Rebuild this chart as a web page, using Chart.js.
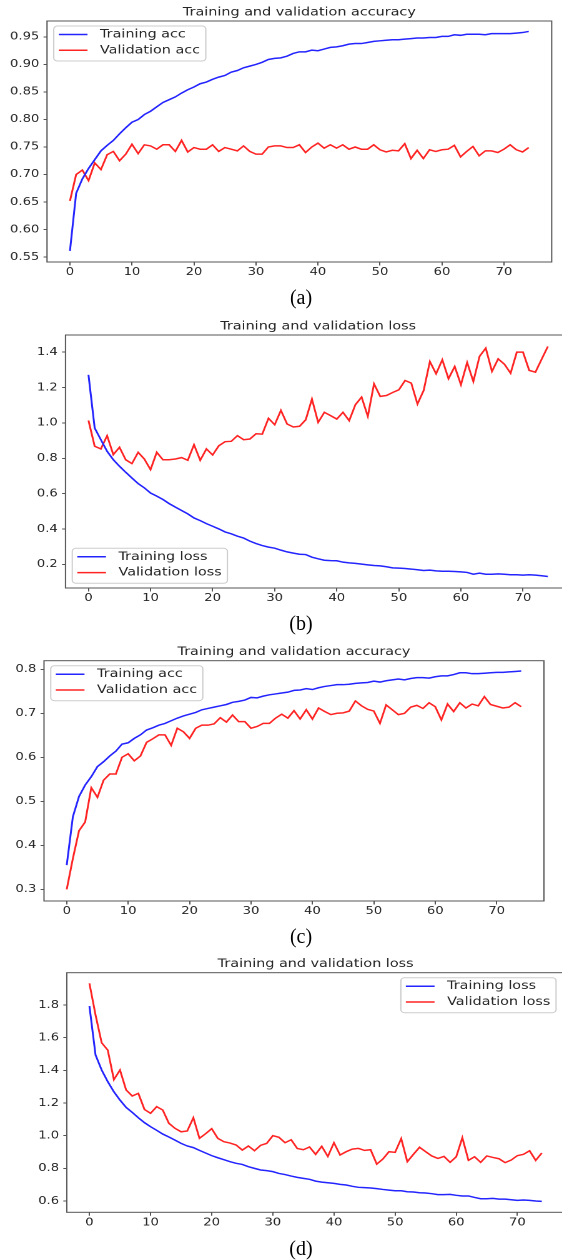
<!DOCTYPE html>
<html><head><meta charset="utf-8">
<script src="https://cdn.jsdelivr.net/npm/chart.js@4/dist/chart.umd.min.js"></script>
<style>
html,body{margin:0;padding:0;background:#fff;overflow:hidden;width:562px;height:1260px;font-family:"DejaVu Sans",sans-serif;}
.wrap{position:absolute;left:0;transform-origin:0 0;transform:scaleX(1.249);}
.wrap canvas{display:block;}
.cap{position:absolute;left:251px;width:100px;text-align:center;font-family:"Liberation Serif","Times New Roman",serif;font-size:20px;line-height:20px;color:#000;}
</style></head><body>
<div class="wrap" style="top:0px"><canvas id="ca"></canvas></div>
<div class="wrap" style="top:305px"><canvas id="cb"></canvas></div>
<div class="wrap" style="top:625px"><canvas id="cc"></canvas></div>
<div class="wrap" style="top:945px"><canvas id="cd"></canvas></div>
<div class="cap" style="top:287px">(a)</div>
<div class="cap" style="top:613px">(b)</div>
<div class="cap" style="top:926px">(c)</div>
<div class="cap" style="top:1238px">(d)</div>
<script>
const epochs = [0,1,2,3,4,5,6,7,8,9,10,11,12,13,14,15,16,17,18,19,20,21,22,23,24,25,26,27,28,29,30,31,32,33,34,35,36,37,38,39,40,41,42,43,44,45,46,47,48,49,50,51,52,53,54,55,56,57,58,59,60,61,62,63,64,65,66,67,68,69,70,71,72,73,74];
const xTickLabels = ['0','10','20','30','40','50','60','70'];

const accA_train = [0.561,0.666,0.692,0.711,0.727,0.743,0.753,0.762,0.774,0.785,0.795,0.800,0.809,0.815,0.823,0.831,0.836,0.841,0.848,0.854,0.859,0.865,0.868,0.873,0.877,0.880,0.886,0.889,0.894,0.897,0.900,0.904,0.909,0.911,0.912,0.915,0.920,0.923,0.923,0.926,0.925,0.928,0.931,0.932,0.934,0.937,0.938,0.938,0.940,0.942,0.943,0.944,0.945,0.945,0.946,0.947,0.948,0.948,0.949,0.949,0.951,0.951,0.954,0.953,0.955,0.955,0.955,0.954,0.956,0.956,0.956,0.956,0.957,0.958,0.960];
const accA_val = [0.652,0.700,0.708,0.689,0.721,0.709,0.736,0.742,0.725,0.737,0.755,0.738,0.754,0.752,0.746,0.754,0.754,0.742,0.762,0.741,0.749,0.746,0.746,0.754,0.742,0.749,0.746,0.743,0.752,0.742,0.737,0.737,0.750,0.752,0.752,0.749,0.749,0.754,0.740,0.750,0.757,0.748,0.754,0.748,0.754,0.746,0.750,0.746,0.746,0.754,0.745,0.741,0.744,0.743,0.756,0.729,0.744,0.729,0.745,0.742,0.745,0.746,0.753,0.732,0.742,0.751,0.734,0.743,0.743,0.740,0.746,0.754,0.745,0.741,0.749];
const yTicksA = ['0.55','0.60','0.65','0.70','0.75','0.80','0.85','0.90','0.95'];

const lossB_train = [1.272,0.971,0.905,0.840,0.792,0.755,0.721,0.689,0.657,0.633,0.604,0.586,0.567,0.544,0.524,0.505,0.486,0.463,0.448,0.431,0.416,0.401,0.384,0.373,0.360,0.349,0.332,0.318,0.307,0.298,0.292,0.281,0.271,0.264,0.258,0.256,0.241,0.232,0.224,0.222,0.221,0.213,0.209,0.206,0.202,0.198,0.194,0.192,0.187,0.181,0.179,0.177,0.174,0.170,0.166,0.168,0.164,0.162,0.162,0.160,0.158,0.155,0.145,0.151,0.145,0.145,0.147,0.145,0.142,0.142,0.140,0.142,0.140,0.136,0.132];
const lossB_val = [1.014,0.868,0.853,0.928,0.821,0.862,0.792,0.770,0.834,0.796,0.736,0.834,0.792,0.792,0.796,0.804,0.789,0.877,0.789,0.853,0.819,0.871,0.894,0.896,0.928,0.905,0.909,0.939,0.937,1.026,0.990,1.071,0.994,0.977,0.981,1.018,1.135,1.003,1.060,1.041,1.022,1.060,1.013,1.103,1.146,1.037,1.221,1.150,1.155,1.172,1.187,1.240,1.225,1.107,1.184,1.347,1.278,1.357,1.250,1.319,1.216,1.342,1.234,1.376,1.423,1.291,1.362,1.332,1.281,1.400,1.400,1.297,1.287,1.360,1.432];
const yTicksB = ['0.2','0.4','0.6','0.8','1.0','1.2','1.4'];

const accC_train = [0.355,0.465,0.511,0.537,0.556,0.579,0.590,0.603,0.614,0.630,0.633,0.643,0.651,0.662,0.667,0.673,0.677,0.683,0.689,0.694,0.698,0.702,0.708,0.711,0.714,0.717,0.720,0.725,0.727,0.730,0.736,0.735,0.739,0.742,0.744,0.746,0.748,0.752,0.753,0.756,0.754,0.758,0.761,0.763,0.765,0.765,0.766,0.768,0.769,0.770,0.773,0.771,0.774,0.776,0.778,0.776,0.779,0.781,0.781,0.780,0.783,0.785,0.785,0.788,0.792,0.792,0.790,0.790,0.791,0.792,0.793,0.793,0.794,0.795,0.796];
const accC_val = [0.300,0.370,0.433,0.453,0.531,0.509,0.548,0.562,0.562,0.600,0.608,0.592,0.603,0.634,0.642,0.651,0.651,0.627,0.666,0.658,0.643,0.666,0.673,0.673,0.676,0.690,0.680,0.696,0.681,0.681,0.666,0.670,0.677,0.677,0.689,0.698,0.689,0.706,0.687,0.708,0.687,0.712,0.704,0.697,0.700,0.701,0.705,0.728,0.717,0.709,0.705,0.677,0.719,0.708,0.697,0.700,0.714,0.718,0.711,0.724,0.715,0.685,0.721,0.704,0.724,0.712,0.721,0.717,0.738,0.720,0.716,0.712,0.714,0.724,0.715];
const yTicksC = ['0.3','0.4','0.5','0.6','0.7','0.8'];

const lossD_train = [1.794,1.494,1.402,1.331,1.269,1.218,1.173,1.143,1.110,1.080,1.055,1.033,1.010,0.992,0.973,0.953,0.937,0.927,0.910,0.894,0.878,0.865,0.853,0.841,0.831,0.824,0.810,0.800,0.790,0.786,0.780,0.769,0.762,0.753,0.745,0.739,0.733,0.722,0.716,0.712,0.708,0.702,0.698,0.690,0.684,0.682,0.680,0.676,0.671,0.667,0.663,0.663,0.657,0.655,0.651,0.649,0.645,0.639,0.639,0.641,0.635,0.631,0.631,0.622,0.614,0.614,0.616,0.612,0.612,0.608,0.604,0.606,0.604,0.600,0.598];
const lossD_val = [1.933,1.739,1.569,1.524,1.343,1.402,1.280,1.243,1.259,1.161,1.137,1.178,1.157,1.076,1.045,1.024,1.029,1.110,0.984,1.012,1.043,0.984,0.963,0.955,0.943,0.912,0.937,0.908,0.941,0.953,1.000,0.990,0.957,0.975,0.922,0.914,0.931,0.886,0.935,0.873,0.957,0.882,0.902,0.918,0.922,0.910,0.914,0.826,0.857,0.902,0.898,0.982,0.841,0.886,0.929,0.902,0.876,0.861,0.873,0.837,0.871,0.988,0.849,0.871,0.837,0.876,0.867,0.859,0.835,0.851,0.878,0.886,0.908,0.849,0.894];
const yTicksD = ['0.6','0.8','1.0','1.2','1.4','1.6','1.8'];

const BLUE = '#2424ff', RED = '#ff2424', INK = '#262626', SPINE = '#555555';
const FAMILY = '"DejaVu Sans", sans-serif';
Chart.defaults.font.family = FAMILY;

const framePlugin = {
  id: 'frame',
  afterDatasetsDraw(chart, args, opts) {
    const ctx = chart.ctx, a = chart.chartArea;
    ctx.save();
    ctx.strokeStyle = SPINE; ctx.lineWidth = 1;
    ctx.strokeRect(a.left, a.top, a.right - a.left, a.bottom - a.top);
    const size = opts.size || 11.5;
    ctx.font = size + 'px ' + FAMILY;
    const ds = chart.data.datasets;
    const maxW = Math.max.apply(null, ds.map(d => ctx.measureText(d.label).width));
    const w = 4 + 23 + 10 + maxW + 4.6, h = 35;
    const corner = opts.corner || 'tl';
    const x = corner.indexOf('r') >= 0 ? a.right - 6.7 - w : a.left + 5.4;
    const y = corner.indexOf('b') >= 0 ? a.bottom - 4.7 - h : a.top + 5;
    ctx.beginPath();
    ctx.roundRect(x, y, w, h, 3);
    ctx.fillStyle = 'rgba(255,255,255,0.8)';
    ctx.fill();
    ctx.strokeStyle = '#cccccc'; ctx.lineWidth = 1;
    ctx.stroke();
    ds.forEach((d, i) => {
      const cy = y + 8.5 + i * 15.8;
      ctx.beginPath();
      ctx.strokeStyle = d.borderColor; ctx.lineWidth = 1.5;
      ctx.moveTo(x + 4, cy); ctx.lineTo(x + 27, cy); ctx.stroke();
      ctx.fillStyle = INK; ctx.textAlign = 'left'; ctx.textBaseline = 'middle';
      ctx.fillText(d.label, x + 37, cy);
    });
    ctx.restore();
  }
};

function makeChart(id, c) {
  const cv = document.getElementById(id);
  cv.width = c.W; cv.height = c.H;
  cv.style.width = c.W + 'px'; cv.style.height = c.H + 'px';
  const tickFont = { family: FAMILY, size: 10.5 };
  return new Chart(cv, {
    type: 'line',
    data: {
      labels: epochs,
      datasets: [
        { label: c.names[0], data: c.s1, borderColor: BLUE, borderWidth: 1.5, pointRadius: 0, fill: false, tension: 0 },
        { label: c.names[1], data: c.s2, borderColor: RED, borderWidth: 1.5, pointRadius: 0, fill: false, tension: 0 }
      ]
    },
    plugins: [framePlugin],
    options: {
      responsive: false, animation: false, devicePixelRatio: 2,
      layout: { padding: { top: c.padTop, left: 0, right: c.padRight, bottom: 0 } },
      plugins: {
        legend: { display: false }, tooltip: { enabled: false },
        title: { display: true, fullSize: false, text: c.title, color: INK,
          font: { family: FAMILY, size: 11.5, weight: 'normal', lineHeight: 1.2 },
          padding: { top: 0, bottom: 1.8 } },
        frame: { corner: c.corner, size: 11.5 }
      },
      scales: {
        x: {
          type: 'linear', min: -3.7, max: 77.7,
          afterFit(s) { s.height = c.xH; },
          afterBuildTicks(s) { s.ticks = xTickLabels.map(t => ({ value: parseFloat(t) })); },
          ticks: { font: tickFont, color: INK, padding: 0.7, maxRotation: 0, autoSkip: false,
            callback: (v) => xTickLabels.find(t => Math.abs(parseFloat(t) - v) < 1e-9) },
          grid: { drawOnChartArea: false, drawTicks: true, tickLength: 3.5, color: SPINE },
          border: { display: false }
        },
        y: {
          type: 'linear', min: c.yMin, max: c.yMax,
          afterFit(s) { s.width = c.yW; },
          afterBuildTicks(s) { s.ticks = c.yTicks.map(t => ({ value: parseFloat(t) })); },
          ticks: { font: tickFont, color: INK, padding: 3.4, autoSkip: false,
            callback: (v) => c.yTicks.find(t => Math.abs(parseFloat(t) - v) < 1e-9) },
          grid: { drawOnChartArea: false, drawTicks: true, tickLength: 2.8, color: SPINE },
          border: { display: false }
        }
      }
    }
  });
}

let drawn = false;
function drawAll() {
  if (drawn) return;
  drawn = true;
  makeChart('ca', { W: 450, H: 285, padTop: 5.4, padRight: 8.3, xH: 23, yW: 37.63,
    yMin: 0.541, yMax: 0.979, yTicks: yTicksA, title: 'Training and validation accuracy',
    names: ['Training acc', 'Validation acc'], s1: accA_train, s2: accA_val, corner: 'tl' });
  makeChart('cb', { W: 462, H: 305, padTop: 14.4, padRight: 5, xH: 22, yW: 52.44,
    yMin: 0.067, yMax: 1.497, yTicks: yTicksB, title: 'Training and validation loss',
    names: ['Training loss', 'Validation loss'], s1: lossB_train, s2: lossB_val, corner: 'bl' });
  makeChart('cc', { W: 450, H: 300, padTop: 20.1, padRight: 14.5, xH: 24, yW: 35.23,
    yMin: 0.2735, yMax: 0.8195, yTicks: yTicksC, title: 'Training and validation accuracy',
    names: ['Training acc', 'Validation acc'], s1: accC_train, s2: accC_val, corner: 'tl' });
  makeChart('cd', { W: 462, H: 295, padTop: 12.1, padRight: 10.1, xH: 27.7, yW: 53.48,
    yMin: 0.531, yMax: 1.998, yTicks: yTicksD, title: 'Training and validation loss',
    names: ['Training loss', 'Validation loss'], s1: lossD_train, s2: lossD_val, corner: 'tr' });
}
if (document.fonts && document.fonts.load) {
  document.fonts.load('11.5px "DejaVu Sans"').then(drawAll, drawAll);
  setTimeout(drawAll, 400);
} else {
  drawAll();
}
</script>
</body></html>
